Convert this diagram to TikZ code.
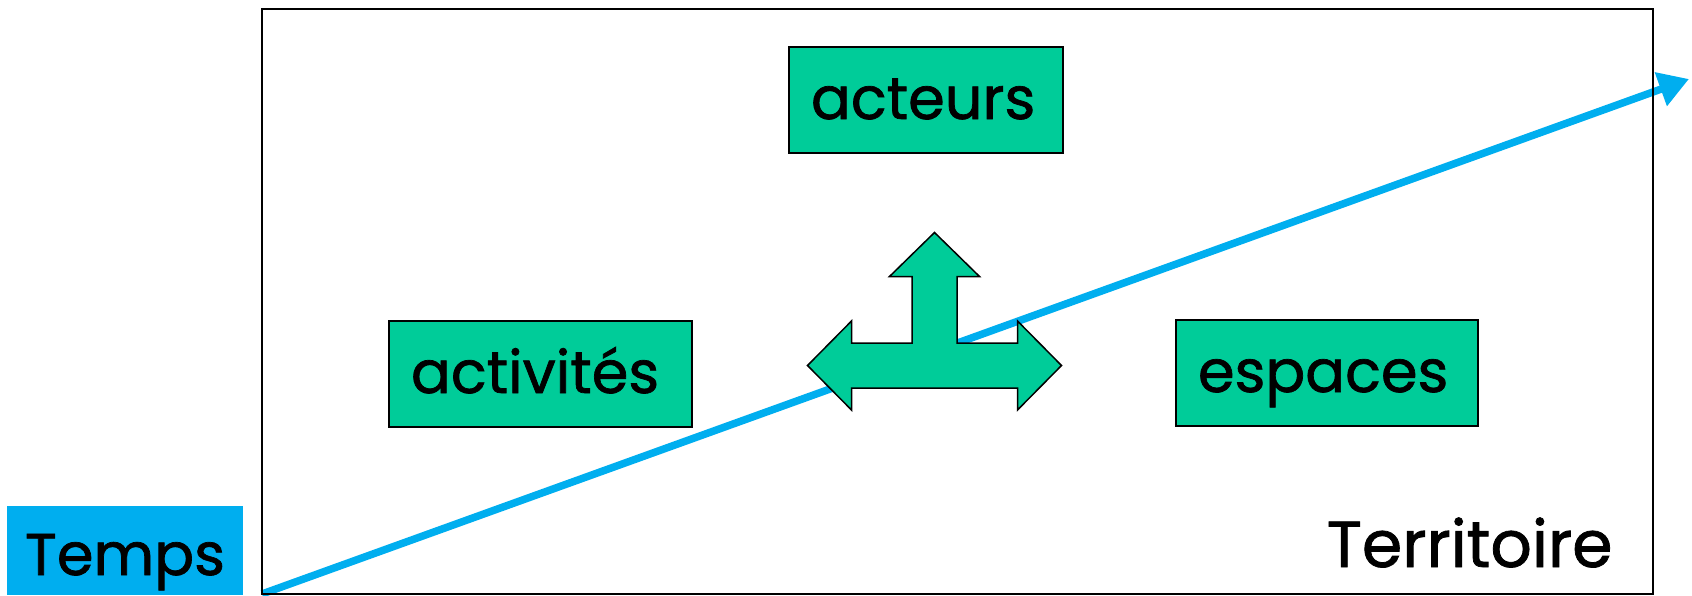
\documentclass[tikz,border=0pt]{standalone}
\usepackage{fontspec}
\setmainfont{Poppins}[FakeBold=1.2]
\usetikzlibrary{positioning}
\usetikzlibrary{arrows.meta}
\definecolor{boxgreen}{HTML}{00CC99}
\definecolor{timeblue}{HTML}{00AEEF}

\begin{document}
\begin{tikzpicture}[x=1pt, y=-1pt,
    bigfont/.style={font=\fontsize{59}{62}\selectfont},
    box/.style={draw, line width=1.5pt, fill=boxgreen, bigfont,
        minimum height=106pt, inner xsep=22pt, align=left,
        text height=53pt, text depth=15pt},
]

    \useasboundingbox (0,0) rectangle (1692,595);

    % Time axis
    \coordinate (frameSW) at (262,594);
    \coordinate (timetip) at (1689,79);
    \draw[timeblue, line width=7.5pt, -{Triangle[length=30pt,width=34pt]}]
        (frameSW) -- (timetip);

    % Territory frame
    \draw[line width=2pt] (262,9) coordinate(frameNW) rectangle (1653,594) coordinate(frameSE);

    \node[font=\fontsize{65}{68}\selectfont, anchor=base east] (terr) at (1616,567) {Territoire};

    \node[fill=timeblue, bigfont, minimum width=236pt, minimum height=89pt,
        text height=64pt, text depth=15pt] (temps) at (125,550.5) {Temps};

    % Boxes
    \node[box, text width=230pt] (acteurs) at (926,100) {acteurs};
    \node[box, text width=259pt] (activites) at (540.5,374) {activités};
    \node[box, text width=258pt] (espaces) at (1327,373) {espaces};

    % Three-way arrow
    \coordinate (hub) at (934.5,365.5);
    \draw[line width=1.5pt, fill=boxgreen, line join=miter]
        (hub) ++(0,-133) -- ++(45,44) -- ++(-22.5,0) -- ++(0,66.5)
        -- ++(60.5,0) -- ++(0,-22) -- ++(44,44.5) -- ++(-44,44.5) -- ++(0,-22)
        -- ++(-166,0) -- ++(0,22) -- ++(-44,-44.5) -- ++(44,-44.5) -- ++(0,22)
        -- ++(60.5,0) -- ++(0,-66.5) -- ++(-22.5,0) -- cycle;

\end{tikzpicture}
\end{document}
